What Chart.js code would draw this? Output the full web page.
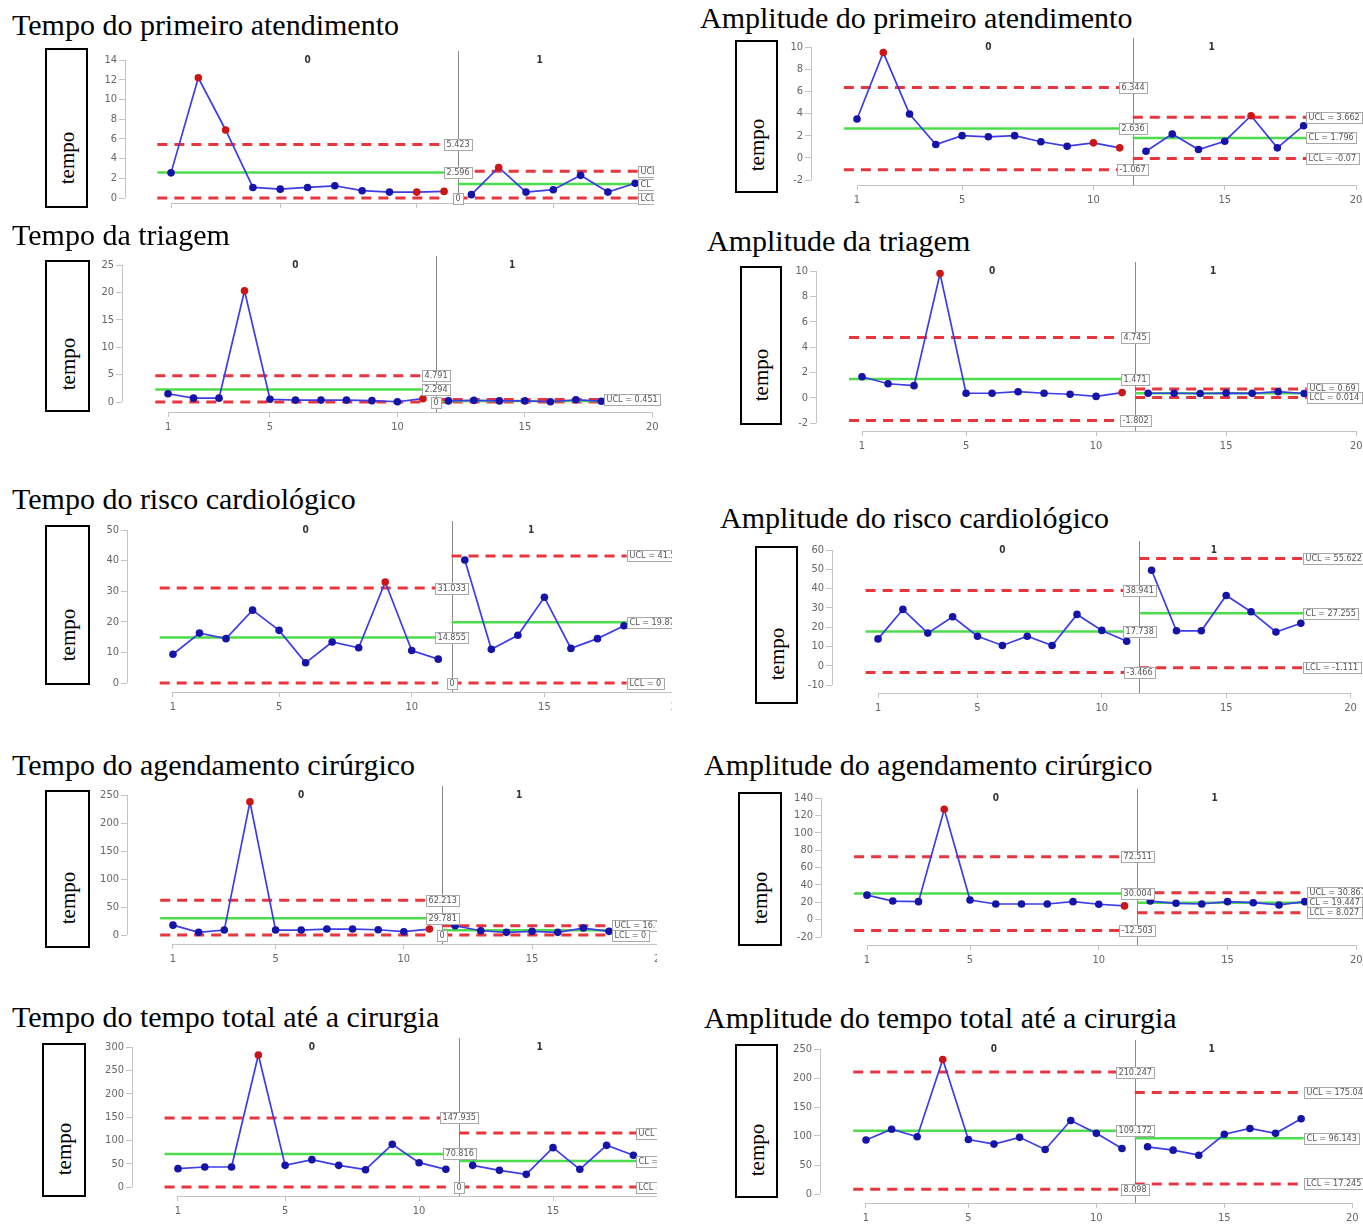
<!DOCTYPE html>
<html>
<head>
<meta charset="utf-8">
<script src="https://cdn.jsdelivr.net/npm/chart.js@4.4.0/dist/chart.umd.min.js"></script>
<style>
    body {
        margin: 0;
        background: #fff;
        width: 1363px;
        height: 1226px;
        position: relative;
        overflow: hidden;
    }
    .titulo {
        position: absolute;
        font-family: "Liberation Serif", "Times New Roman", serif;
        font-size: 30px;
        line-height: 34px;
        white-space: nowrap;
        color: #000;
    }
    .caixa {
        position: absolute;
        border: 2px solid #000;
        box-sizing: border-box;
    }
    .caixa span {
        position: absolute;
        left: 50%;
        top: 69%;
        transform: translate(-50%, -50%) rotate(-90deg);
        font-family: "Liberation Serif", "Times New Roman", serif;
        font-size: 21px;
        white-space: nowrap;
    }
    .area {
        position: absolute;
        overflow: hidden;
    }
    .area canvas {
        position: absolute;
        left: 0;
        top: 0;
    }
</style>
</head>
<body>
<script>
// eixo x comum (amostras 1..18, fase 0 = 1..11, fase 1 = 12..18)
const xTicks = [1, 5, 10, 15, 20];

// limites: [UCL, CL, LCL]
const tempoPrimeiroFase0 = [2.55, 12.2, 6.9, 1.07, 0.9, 1.07, 1.24, 0.74, 0.6, 0.6, 0.67];
const tempoPrimeiroFase1 = [0.34, 3.1, 0.6, 0.84, 2.3, 0.6, 1.5];
const tempoPrimeiroLim0 = [5.423, 2.596, 0];
const tempoPrimeiroLim1 = [2.72, 1.41, 0];
const tempoPrimeiroVermelhos = [2, 3, 10, 11, 13];
const tempoPrimeiroTicks = [0, 2, 4, 6, 8, 10, 12, 14];

const ampPrimeiroFase0 = [3.5, 9.5, 3.95, 1.2, 2.0, 1.9, 2.0, 1.45, 1.05, 1.35, 0.9];
const ampPrimeiroFase1 = [0.6, 2.15, 0.75, 1.5, 3.8, 0.9, 2.9];
const ampPrimeiroLim0 = [6.344, 2.636, -1.067];
const ampPrimeiroLim1 = [3.662, 1.796, -0.07];
const ampPrimeiroVermelhos = [2, 10, 11, 16];
const ampPrimeiroTicks = [-2, 0, 2, 4, 6, 8, 10];

const tempoTriagemFase0 = [1.5, 0.7, 0.7, 20.3, 0.5, 0.35, 0.35, 0.35, 0.25, 0.05, 0.6];
const tempoTriagemFase1 = [0.2, 0.3, 0.2, 0.2, 0.05, 0.4, 0.15];
const tempoTriagemLim0 = [4.791, 2.294, 0];
const tempoTriagemLim1 = [0.451, 0.2, 0];
const tempoTriagemVermelhos = [4, 11];
const tempoTriagemTicks = [0, 5, 10, 15, 20, 25];

const ampTriagemFase0 = [1.65, 1.1, 0.95, 9.8, 0.35, 0.35, 0.47, 0.35, 0.27, 0.1, 0.4];
const ampTriagemFase1 = [0.35, 0.35, 0.33, 0.36, 0.34, 0.47, 0.33];
const ampTriagemLim0 = [4.745, 1.471, -1.802];
const ampTriagemLim1 = [0.69, 0.352, 0.014];
const ampTriagemVermelhos = [4, 11];
const ampTriagemTicks = [-2, 0, 2, 4, 6, 8, 10];

const tempoRiscoFase0 = [9.4, 16.3, 14.5, 23.8, 17.2, 6.6, 13.4, 11.5, 33.0, 10.6, 7.8];
const tempoRiscoFase1 = [40.2, 11.0, 15.6, 28.0, 11.3, 14.5, 18.7];
const tempoRiscoLim0 = [31.033, 14.855, 0];
const tempoRiscoLim1 = [41.51, 19.874, 0];
const tempoRiscoVermelhos = [9];
const tempoRiscoTicks = [0, 10, 20, 30, 40, 50];

const ampRiscoFase0 = [13.9, 29.2, 16.9, 25.4, 15.3, 10.5, 15.3, 10.5, 26.6, 18.3, 12.7];
const ampRiscoFase1 = [49.5, 18.1, 18.1, 36.4, 28.0, 17.5, 22.0];
const ampRiscoLim0 = [38.941, 17.738, -3.466];
const ampRiscoLim1 = [55.622, 27.255, -1.111];
const ampRiscoVermelhos = [];
const ampRiscoTicks = [-10, 0, 10, 20, 30, 40, 50, 60];

const tempoAgendFase0 = [17.6, 4.7, 8.8, 238, 8.8, 8.8, 10.6, 10.6, 9.4, 5.9, 10.6];
const tempoAgendFase1 = [16.5, 7.6, 4.7, 6.5, 4.7, 12.4, 6.5];
const tempoAgendLim0 = [62.213, 29.781, 0];
const tempoAgendLim1 = [16.714, 8.571, 0];
const tempoAgendVermelhos = [4, 11];
const tempoAgendTicks = [0, 50, 100, 150, 200, 250];

const ampAgendFase0 = [28.2, 21.4, 20.7, 127, 22.6, 18, 18, 18, 20.7, 17.7, 15.8];
const ampAgendFase1 = [21.4, 18.8, 18, 20.7, 19.5, 16.9, 20.7];
const ampAgendLim0 = [72.511, 30.004, -12.503];
const ampAgendLim1 = [30.867, 19.447, 8.027];
const ampAgendVermelhos = [4, 11];
const ampAgendTicks = [-20, 0, 20, 40, 60, 80, 100, 120, 140];

const tempoTotalFase0 = [39.3, 42.9, 42.9, 283, 46.4, 58.6, 46.4, 37.1, 91.4, 52.1, 37.9];
const tempoTotalFase1 = [46.4, 35.7, 27.1, 84.3, 37.9, 89.3, 67.9];
const tempoTotalLim0 = [147.935, 70.816, 0];
const tempoTotalLim1 = [115.7, 55.7, 0];
const tempoTotalVermelhos = [4];
const tempoTotalTicks = [0, 50, 100, 150, 200, 250, 300];

const ampTotalFase0 = [93, 111.6, 98.8, 232, 94, 86, 97.7, 76.7, 126.7, 104.6, 78.5];
const ampTotalFase1 = [81.4, 75.6, 66.9, 103, 113, 104.6, 129.7];
const ampTotalLim0 = [210.247, 109.172, 8.098];
const ampTotalLim1 = [175.041, 96.143, 17.245];
const ampTotalVermelhos = [4];
const ampTotalTicks = [0, 50, 100, 150, 200, 250];

// posicao de cada painel na pagina
const paineis = [
    { titulo: "Tempo do primeiro atendimento", tx: 12, ty: 25, caixa: [45, 48, 43, 160],
      f0: tempoPrimeiroFase0, f1: tempoPrimeiroFase1, lim0: tempoPrimeiroLim0, lim1: tempoPrimeiroLim1,
      vermelhos: tempoPrimeiroVermelhos, ticks: tempoPrimeiroTicks, rot1: [true, true, true],
      x1: 171, u: 27.3, topo: 60, base: 198, eixo: 203, corte: 654, semX: true },
    { titulo: "Amplitude do primeiro atendimento", tx: 700, ty: 18, caixa: [735, 40, 43, 153],
      f0: ampPrimeiroFase0, f1: ampPrimeiroFase1, lim0: ampPrimeiroLim0, lim1: ampPrimeiroLim1,
      vermelhos: ampPrimeiroVermelhos, ticks: ampPrimeiroTicks, rot1: [true, true, true],
      x1: 857, u: 26.26, topo: 47, base: 180, eixo: 185 },
    { titulo: "Tempo da triagem", tx: 12, ty: 235, caixa: [45, 260, 45, 152],
      f0: tempoTriagemFase0, f1: tempoTriagemFase1, lim0: tempoTriagemLim0, lim1: tempoTriagemLim1,
      vermelhos: tempoTriagemVermelhos, ticks: tempoTriagemTicks, rot1: [true, false, false],
      x1: 168, u: 25.47, topo: 265, base: 402, eixo: 412 },
    { titulo: "Amplitude da triagem", tx: 707, ty: 241, caixa: [740, 266, 42, 159],
      f0: ampTriagemFase0, f1: ampTriagemFase1, lim0: ampTriagemLim0, lim1: ampTriagemLim1,
      vermelhos: ampTriagemVermelhos, ticks: ampTriagemTicks, rot1: [true, false, true],
      x1: 862, u: 26.0, topo: 271, base: 423, eixo: 431 },
    { titulo: "Tempo do risco cardiológico", tx: 12, ty: 499, caixa: [45, 525, 45, 160],
      f0: tempoRiscoFase0, f1: tempoRiscoFase1, lim0: tempoRiscoLim0, lim1: tempoRiscoLim1,
      vermelhos: tempoRiscoVermelhos, ticks: tempoRiscoTicks, rot1: [true, true, true],
      x1: 173, u: 26.55, topo: 530, base: 683, eixo: 692, corte: 672 },
    { titulo: "Amplitude do risco cardiológico", tx: 720, ty: 518, caixa: [755, 546, 43, 158],
      f0: ampRiscoFase0, f1: ampRiscoFase1, lim0: ampRiscoLim0, lim1: ampRiscoLim1,
      vermelhos: ampRiscoVermelhos, ticks: ampRiscoTicks, rot1: [true, true, true],
      x1: 878, u: 24.85, topo: 550, base: 685, eixo: 693 },
    { titulo: "Tempo do agendamento cirúrgico", tx: 12, ty: 765, caixa: [45, 790, 45, 158],
      f0: tempoAgendFase0, f1: tempoAgendFase1, lim0: tempoAgendLim0, lim1: tempoAgendLim1,
      vermelhos: tempoAgendVermelhos, ticks: tempoAgendTicks, rot1: [true, false, true],
      x1: 173, u: 25.65, topo: 795, base: 935, eixo: 944, corte: 657 },
    { titulo: "Amplitude do agendamento cirúrgico", tx: 704, ty: 765, caixa: [738, 792, 44, 154],
      f0: ampAgendFase0, f1: ampAgendFase1, lim0: ampAgendLim0, lim1: ampAgendLim1,
      vermelhos: ampAgendVermelhos, ticks: ampAgendTicks, rot1: [true, true, true],
      x1: 867, u: 25.75, topo: 798, base: 937, eixo: 945 },
    { titulo: "Tempo do tempo total até a cirurgia", tx: 12, ty: 1017, caixa: [42, 1043, 44, 154],
      f0: tempoTotalFase0, f1: tempoTotalFase1, lim0: tempoTotalLim0, lim1: tempoTotalLim1,
      vermelhos: tempoTotalVermelhos, ticks: tempoTotalTicks, rot1: [true, true, true],
      x1: 178, u: 26.8, topo: 1047, base: 1187, eixo: 1196, corte: 657 },
    { titulo: "Amplitude do tempo total até a cirurgia", tx: 704, ty: 1018, caixa: [735, 1044, 43, 154],
      f0: ampTotalFase0, f1: ampTotalFase1, lim0: ampTotalLim0, lim1: ampTotalLim1,
      vermelhos: ampTotalVermelhos, ticks: ampTotalTicks, rot1: [true, true, true],
      x1: 866, u: 25.6, topo: 1049, base: 1194, eixo: 1203 },
];

const FONTE_EIXO = '"Liberation Sans Narrow", "DejaVu Sans Condensed", "Liberation Sans", sans-serif';
const SEPARADOR = 11.5;
const FASE0 = [0.5, 11.0];
const FASE1 = [11.5, 18.1];
const NOMES = ["UCL = ", "CL = ", "LCL = "];

function rotulo(ctx, texto, x, y, centro) {
    ctx.font = "9px " + FONTE_EIXO;
    const w = Math.round(ctx.measureText(texto).width + 5);
    const h = 11;
    const left = Math.round(centro ? x - w / 2 : x);
    const top = Math.round(y - h / 2);
    ctx.fillStyle = "#fff";
    ctx.fillRect(left, top, w, h);
    ctx.strokeStyle = "#a8a8a8";
    ctx.lineWidth = 1;
    ctx.strokeRect(left + 0.5, top + 0.5, w, h);
    ctx.fillStyle = "#555";
    ctx.textAlign = "left";
    ctx.textBaseline = "middle";
    ctx.fillText(texto, left + 2.5, top + h / 2 + 0.5);
}

const controle = {
    id: "controle",
    beforeDatasetsDraw(chart, args, o) {
        const { ctx, chartArea: a, scales: { x, y } } = chart;
        ctx.save();
        ctx.strokeStyle = "#c4c4c4";
        ctx.lineWidth = 1;
        ctx.beginPath();
        ctx.moveTo(x.getPixelForValue(xTicks[0]), a.bottom + 0.5);
        ctx.lineTo(x.getPixelForValue(xTicks[xTicks.length - 1]), a.bottom + 0.5);
        ctx.moveTo(a.left + 0.5, y.getPixelForValue(o.ticks[0]));
        ctx.lineTo(a.left + 0.5, y.getPixelForValue(o.ticks[o.ticks.length - 1]));
        ctx.stroke();
        // linha que separa as fases
        const xs = Math.round(x.getPixelForValue(SEPARADOR)) + 0.5;
        ctx.strokeStyle = "#8a8a8a";
        ctx.beginPath();
        ctx.moveTo(xs, a.top - 9);
        ctx.lineTo(xs, a.bottom);
        ctx.stroke();
        ctx.fillStyle = "#333";
        ctx.font = "bold 10px " + FONTE_EIXO;
        ctx.textAlign = "center";
        ctx.textBaseline = "middle";
        ctx.fillText("0", x.getPixelForValue(6), a.top);
        ctx.fillText("1", x.getPixelForValue(14.5), a.top);
        ctx.restore();
    },
    afterDatasetsDraw(chart, args, o) {
        const { ctx, scales: { x, y } } = chart;
        ctx.save();
        o.lim0.forEach((v) => {
            rotulo(ctx, String(v), x.getPixelForValue(SEPARADOR), y.getPixelForValue(v), true);
        });
        o.lim1.forEach((v, i) => {
            if (!o.rot1[i]) return;
            rotulo(ctx, NOMES[i] + v, x.getPixelForValue(FASE1[1]), y.getPixelForValue(v), false);
        });
        ctx.restore();
    },
};

function limites(lim, fase) {
    return lim.map((v, i) => ({
        data: [{ x: fase[0], y: v }, { x: fase[1], y: v }],
        borderColor: i === 1 ? "#4cdc4c" : "#e8363e",
        borderWidth: i === 1 ? 2.5 : 3,
        borderDash: i === 1 ? [] : [10, 7],
        pointRadius: 0,
        order: 2,
    }));
}

function serie(vals, inicio, vermelhos) {
    return {
        data: vals.map((v, i) => ({ x: inicio + i, y: v })),
        borderColor: "#3c3ce8",
        borderWidth: 1.7,
        pointRadius: 3.8,
        pointBorderWidth: 0,
        pointBackgroundColor: vals.map((v, i) =>
            vermelhos.includes(inicio + i) ? "#cc1515" : "#1414a8"
        ),
        clip: false,
        order: 1,
    };
}

const YW = 34, PT = 14, PR = 8, XH = 28;

paineis.forEach((p) => {
    const t = document.createElement("div");
    t.className = "titulo";
    t.style.left = p.tx + "px";
    t.style.top = p.ty - 17 + "px";
    t.textContent = p.titulo;
    document.body.appendChild(t);

    const c = document.createElement("div");
    c.className = "caixa";
    c.style.left = p.caixa[0] + "px";
    c.style.top = p.caixa[1] + "px";
    c.style.width = p.caixa[2] + "px";
    c.style.height = p.caixa[3] + "px";
    c.innerHTML = "<span>tempo</span>";
    document.body.appendChild(c);

    const yTop = p.ticks[p.ticks.length - 1];
    const ppu = (p.base - p.topo) / (yTop - p.ticks[0]);
    const yMin = p.ticks[0] - (p.eixo - p.base) / ppu;
    const xMin = 1 - 46 / p.u;
    const xMax = 20.3;
    const left = p.x1 + (xMin - 1) * p.u;
    const right = p.x1 + (xMax - 1) * p.u;
    const w = Math.round(right - left + YW + PR);
    const h = Math.round(p.eixo - p.topo + PT + XH);
    const cl = Math.round(left - YW);
    const ct = Math.round(p.topo - PT);

    const area = document.createElement("div");
    area.className = "area";
    area.style.left = cl + "px";
    area.style.top = ct + "px";
    area.style.width = (p.corte ? Math.min(w, p.corte - cl) : w) + "px";
    area.style.height = h + "px";
    const canvas = document.createElement("canvas");
    canvas.width = w;
    canvas.height = h;
    area.appendChild(canvas);
    document.body.appendChild(area);

    new Chart(canvas.getContext("2d"), {
        type: "line",
        data: {
            datasets: [
                serie(p.f0, 1, p.vermelhos),
                serie(p.f1, 12, p.vermelhos),
                ...limites(p.lim0, FASE0),
                ...limites(p.lim1, FASE1),
            ],
        },
        options: {
            responsive: false,
            animation: false,
            events: [],
            devicePixelRatio: 1,
            layout: { padding: { top: PT, right: PR, left: 0, bottom: 0 } },
            plugins: {
                legend: { display: false },
                tooltip: { enabled: false },
                controle: { ticks: p.ticks, lim0: p.lim0, lim1: p.lim1, rot1: p.rot1 },
            },
            scales: {
                x: {
                    type: "linear",
                    min: xMin,
                    max: xMax,
                    afterBuildTicks: (s) => { s.ticks = xTicks.map((v) => ({ value: v })); },
                    afterFit: (s) => { s.height = XH; },
                    grid: { display: true, drawOnChartArea: false, drawTicks: true, tickLength: 5, color: "#c4c4c4" },
                    border: { display: false },
                    ticks: {
                        display: !p.semX,
                        color: "#666",
                        font: { size: 11, family: FONTE_EIXO },
                        padding: 4,
                        autoSkip: false,
                        maxRotation: 0,
                    },
                },
                y: {
                    min: yMin,
                    max: yTop,
                    afterBuildTicks: (s) => { s.ticks = p.ticks.map((v) => ({ value: v })); },
                    afterFit: (s) => { s.width = YW; },
                    grid: { display: true, drawOnChartArea: false, drawTicks: true, tickLength: 6, color: "#c4c4c4" },
                    border: { display: false },
                    ticks: { color: "#666", font: { size: 11, family: FONTE_EIXO }, padding: 2 },
                },
            },
        },
        plugins: [controle],
    });
});
</script>
</body>
</html>
